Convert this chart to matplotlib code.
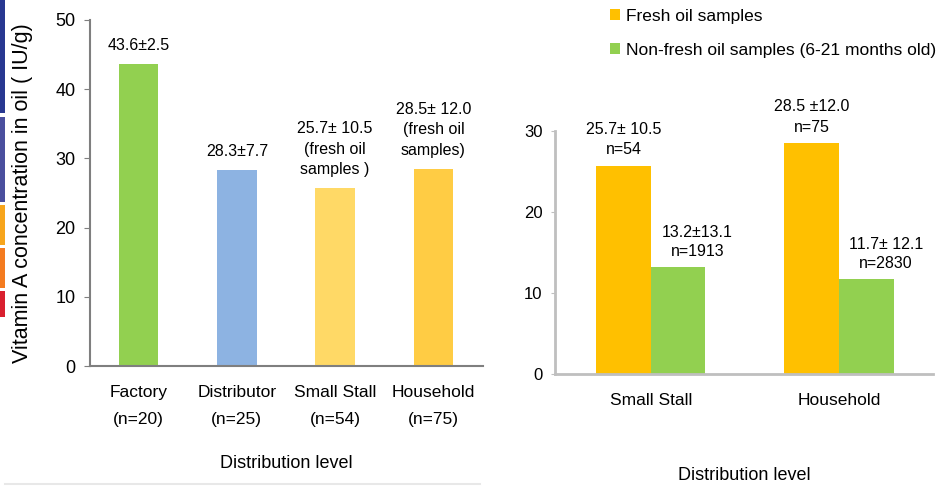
import matplotlib.pyplot as plt
from matplotlib.patches import Rectangle
from matplotlib.lines import Line2D
import numpy as np

plt.rcParams['font.family'] = ['Liberation Sans', 'DejaVu Sans']

# Left chart data
left_cats = ['Factory\n(n=20)', 'Distributor\n(n=25)', 'Small Stall\n(n=54)', 'Household\n(n=75)']
left_vals = [43.6, 28.3, 25.7, 28.5]
left_notes = ['43.6±2.5', '28.3±7.7', '25.7± 10.5\n(fresh oil\nsamples )', '28.5± 12.0\n(fresh oil\nsamples)']
left_colors = ['#92d050', '#8db3e2', '#ffd966', '#ffcc44']

# Right chart data
right_cats = ['Small Stall', 'Household']
fresh_vals = [25.7, 28.5]
nonfresh_vals = [13.2, 11.7]
fresh_notes = ['25.7± 10.5\nn=54', '28.5 ±12.0\nn=75']
nonfresh_notes = ['13.2±13.1\nn=1913', '11.7± 12.1\nn=2830']

W, H = 941, 486
fig = plt.figure(figsize=(W / 100, H / 100), dpi=100)

# decorative strips on left edge
strips = [(0, 113, '#283891'), (117, 202, '#4a4f9e'), (205, 245, '#f7a51c'),
          (248, 288, '#f47b20'), (291, 317, '#d9202f')]
for y0, y1, c in strips:
    fig.add_artist(Rectangle((0, 1 - y1 / H), 5 / W, (y1 - y0) / H,
                             transform=fig.transFigure, color=c, lw=0))
fig.add_artist(Line2D([5 / W, 480 / W], [1 - 484 / H] * 2, transform=fig.transFigure,
                      color='#e8e8e8', lw=1.5))

axis_col = '#7f7f7f'

# ---- left chart ----
ax1 = fig.add_axes([89.5 / W, 1 - 366 / H, 393 / W, 346 / H])
x1 = np.arange(len(left_cats))
ax1.bar(x1, left_vals, width=0.4, color=left_colors)
for xi, v, t in zip(x1, left_vals, left_notes):
    ax1.annotate(t, (xi, v), xytext=(0, 8), textcoords='offset points',
                 ha='center', va='bottom', fontsize=11.5, linespacing=1.45)
ax1.set_xlim(-0.5, 3.5)
ax1.set_ylim(0, 50)
ax1.set_yticks([0, 10, 20, 30, 40, 50])
ax1.set_xticks(x1)
ax1.set_xticklabels(left_cats, fontsize=12.5, linespacing=1.95)
ax1.tick_params(axis='x', length=0, pad=14)
ax1.tick_params(axis='y', labelsize=13, length=4, color=axis_col, pad=6)
for s in ['top', 'right']:
    ax1.spines[s].set_visible(False)
for s in ['left', 'bottom']:
    ax1.spines[s].set_color(axis_col)
    ax1.spines[s].set_linewidth(1.5)
ax1.set_ylabel('Vitamin A concentration in oil ( IU/g)', fontsize=15.5, labelpad=16)
ax1.set_xlabel('Distribution level', fontsize=13, labelpad=20)

# ---- right chart ----
ax2 = fig.add_axes([555 / W, 1 - 374 / H, 378 / W, 243 / H])
x2 = np.arange(len(right_cats))
bw = 0.29
b1 = ax2.bar(x2 - bw / 2, fresh_vals, width=bw, color='#ffc000', label='Fresh oil samples')
b2 = ax2.bar(x2 + bw / 2, nonfresh_vals, width=bw, color='#92d050',
             label='Non-fresh oil samples (6-21 months old)')
for xi, v, t in zip(x2, fresh_vals, fresh_notes):
    ax2.annotate(t, (xi - bw / 2, v), xytext=(0, 6), textcoords='offset points',
                 ha='center', va='bottom', fontsize=11.5, linespacing=1.45)
for xi, v, t in zip(x2, nonfresh_vals, nonfresh_notes):
    ax2.annotate(t, (xi + bw / 2, v), xytext=(14, 6), textcoords='offset points',
                 ha='center', va='bottom', fontsize=11.5, linespacing=1.3)
ax2.set_xlim(-0.51, 1.5)
ax2.set_ylim(0, 30)
ax2.set_yticks([0, 10, 20, 30])
ax2.set_xticks(x2)
ax2.set_xticklabels(right_cats, fontsize=12.5)
ax2.tick_params(axis='x', length=0, pad=14)
ax2.tick_params(axis='y', labelsize=12, length=3, color='#bfbfbf', pad=6)
for s in ['top', 'right']:
    ax2.spines[s].set_visible(False)
for s in ['left', 'bottom']:
    ax2.spines[s].set_color('#bfbfbf')
    ax2.spines[s].set_linewidth(2)
ax2.set_xlabel('Distribution level', fontsize=13, labelpad=42)

fig.legend(handles=[b1, b2], loc='upper left', bbox_to_anchor=(594 / W, 1 + 7 / H),
           frameon=False, fontsize=12.5, handlelength=0.6, handleheight=0.6,
           handletextpad=0.35, labelspacing=1.1)

fig.savefig('out.png', dpi=100)
